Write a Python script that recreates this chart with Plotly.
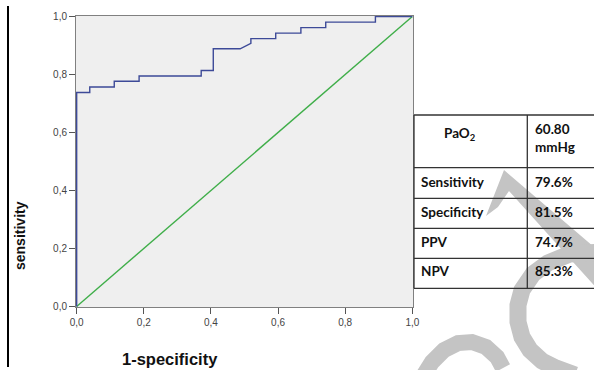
import plotly.graph_objects as go

# ROC curve vertices (1-specificity, sensitivity)
fpr = [0.0, 0.0, 0.039, 0.039, 0.112, 0.112, 0.186, 0.186, 0.371, 0.371, 0.407, 0.407,
       0.487, 0.519, 0.519, 0.593, 0.593, 0.668, 0.668, 0.742, 0.742, 0.890, 0.890, 1.0]
tpr = [0.0, 0.738, 0.738, 0.757, 0.757, 0.777, 0.777, 0.795, 0.795, 0.814, 0.814, 0.889,
       0.889, 0.908, 0.924, 0.924, 0.943, 0.943, 0.962, 0.962, 0.981, 0.981, 1.0, 1.0]
ref_x = [0.0, 1.0]
ref_y = [0.0, 1.0]

tick_vals = [0.0, 0.2, 0.4, 0.6, 0.8, 1.0]
tick_text = ["0,0", "0,2", "0,4", "0,6", "0,8", "1,0"]

table_labels = ["Sensitivity", "Specificity", "PPV", "NPV"]
table_values = ["79.6%", "81.5%", "74.7%", "85.3%"]
header_label = "PaO<sub>2</sub>"
header_value = "60.80<br>mmHg"

W, H = 594, 370
L, R, T, B = 76, 413, 16, 307


def px(x):
    return (x - L) / (R - L)


def py(y):
    return (B - y) / (B - T)


def poly(points):
    return "M " + " L ".join("%f,%f" % (px(a), py(b)) for a, b in points) + " Z"


def curve(points):
    s = "M %f,%f" % (px(points[0][0]), py(points[0][1]))
    for a, b in points[1:]:
        s += " L %f,%f" % (px(a), py(b))
    return s


fig = go.Figure()
fig.add_trace(go.Scatter(x=ref_x, y=ref_y, mode="lines",
                         line=dict(color="#3fae49", width=1.4), hoverinfo="skip"))
fig.add_trace(go.Scatter(x=fpr, y=tpr, mode="lines",
                         line=dict(color="#3d4a98", width=1.4), hoverinfo="skip"))

shapes = []
# watermark (gray strokes)
wm = "#c4c4c4"
shapes.append(dict(type="path", xref="paper", yref="paper", layer="above",
                   path=poly([(504, 170), (600, 252), (600, 292), (509, 191), (498, 207), (486, 216)]),
                   fillcolor=wm, line=dict(width=0)))
shapes.append(dict(type="path", xref="paper", yref="paper", layer="above",
                   path=curve([(600, 252), (570, 254), (548, 263), (533, 274), (522, 290), (518, 305),
                               (518, 322), (522, 337), (530, 350), (542, 361), (556, 368), (575, 375)]),
                   line=dict(color=wm, width=17)))
shapes.append(dict(type="path", xref="paper", yref="paper", layer="above",
                   path=curve([(422, 378), (432, 362), (444, 350), (458, 343), (472, 342),
                               (486, 347), (497, 357), (503, 368)]),
                   line=dict(color=wm, width=16)))

# table lines
tc = "#333333"
hlines = [115, 167.7, 198.3, 228.3, 258.3, 288.3]
for yy in hlines:
    shapes.append(dict(type="line", xref="paper", yref="paper", layer="above",
                       x0=px(414), x1=px(600), y0=py(yy), y1=py(yy),
                       line=dict(color=tc, width=1.3)))
for xx in [414, 527.3]:
    shapes.append(dict(type="line", xref="paper", yref="paper", layer="above",
                       x0=px(xx), x1=px(xx), y0=py(115), y1=py(288.3),
                       line=dict(color=tc, width=1.3)))
# left black page line
shapes.append(dict(type="line", xref="paper", yref="paper", layer="above",
                   x0=px(8), x1=px(8), y0=py(6), y1=py(367),
                   line=dict(color="black", width=2)))

ann = []
tfont = dict(family="Lato, Open Sans, sans-serif", size=13.5, color="#111")
ann.append(dict(text="<b>" + header_label + "</b>", x=px(460), y=py(134), xref="paper", yref="paper",
                showarrow=False, font=tfont, xanchor="center", yanchor="middle"))
ann.append(dict(text="<b>" + header_value + "</b>", x=px(533), y=py(138), xref="paper", yref="paper",
                showarrow=False, font=tfont, xanchor="left", yanchor="middle", align="left"))
row_y = [182, 212, 242, 271]
for lab, val, yy in zip(table_labels, table_values, row_y):
    ann.append(dict(text="<b>" + lab + "</b>", x=px(419), y=py(yy), xref="paper", yref="paper",
                    showarrow=False, font=tfont, xanchor="left", yanchor="middle"))
    ann.append(dict(text="<b>" + val + "</b>", x=px(533), y=py(yy), xref="paper", yref="paper",
                    showarrow=False, font=tfont, xanchor="left", yanchor="middle"))
# axis titles
ann.append(dict(text="<b>sensitivity</b>", x=px(20), y=py(236), xref="paper", yref="paper",
                showarrow=False, textangle=-90, xanchor="center", yanchor="middle",
                font=dict(family="Liberation Sans, Arial, sans-serif", size=14, color="#111")))
ann.append(dict(text="<b>1-specificity</b>", x=px(170), y=py(359), xref="paper", yref="paper",
                showarrow=False, xanchor="center", yanchor="middle",
                font=dict(family="Liberation Sans, Arial, sans-serif", size=16.5, color="#111")))

axis_common = dict(range=[-0.002, 1.002], tickvals=tick_vals, ticktext=tick_text,
                   showgrid=False, zeroline=False, showline=True, mirror=True,
                   linecolor="#808080", linewidth=1, ticks="outside", ticklen=6,
                   tickcolor="#555", tickwidth=1.3,
                   tickfont=dict(family="Liberation Sans, Arial, sans-serif", size=10, color="#444"),
                   fixedrange=True)

fig.update_layout(
    width=W, height=H, margin=dict(l=L, r=W - R, t=T, b=H - B),
    paper_bgcolor="white", plot_bgcolor="#efefef", showlegend=False,
    xaxis=dict(axis_common), yaxis=dict(axis_common),
    shapes=shapes, annotations=ann,
)
fig.write_html("out.html")
